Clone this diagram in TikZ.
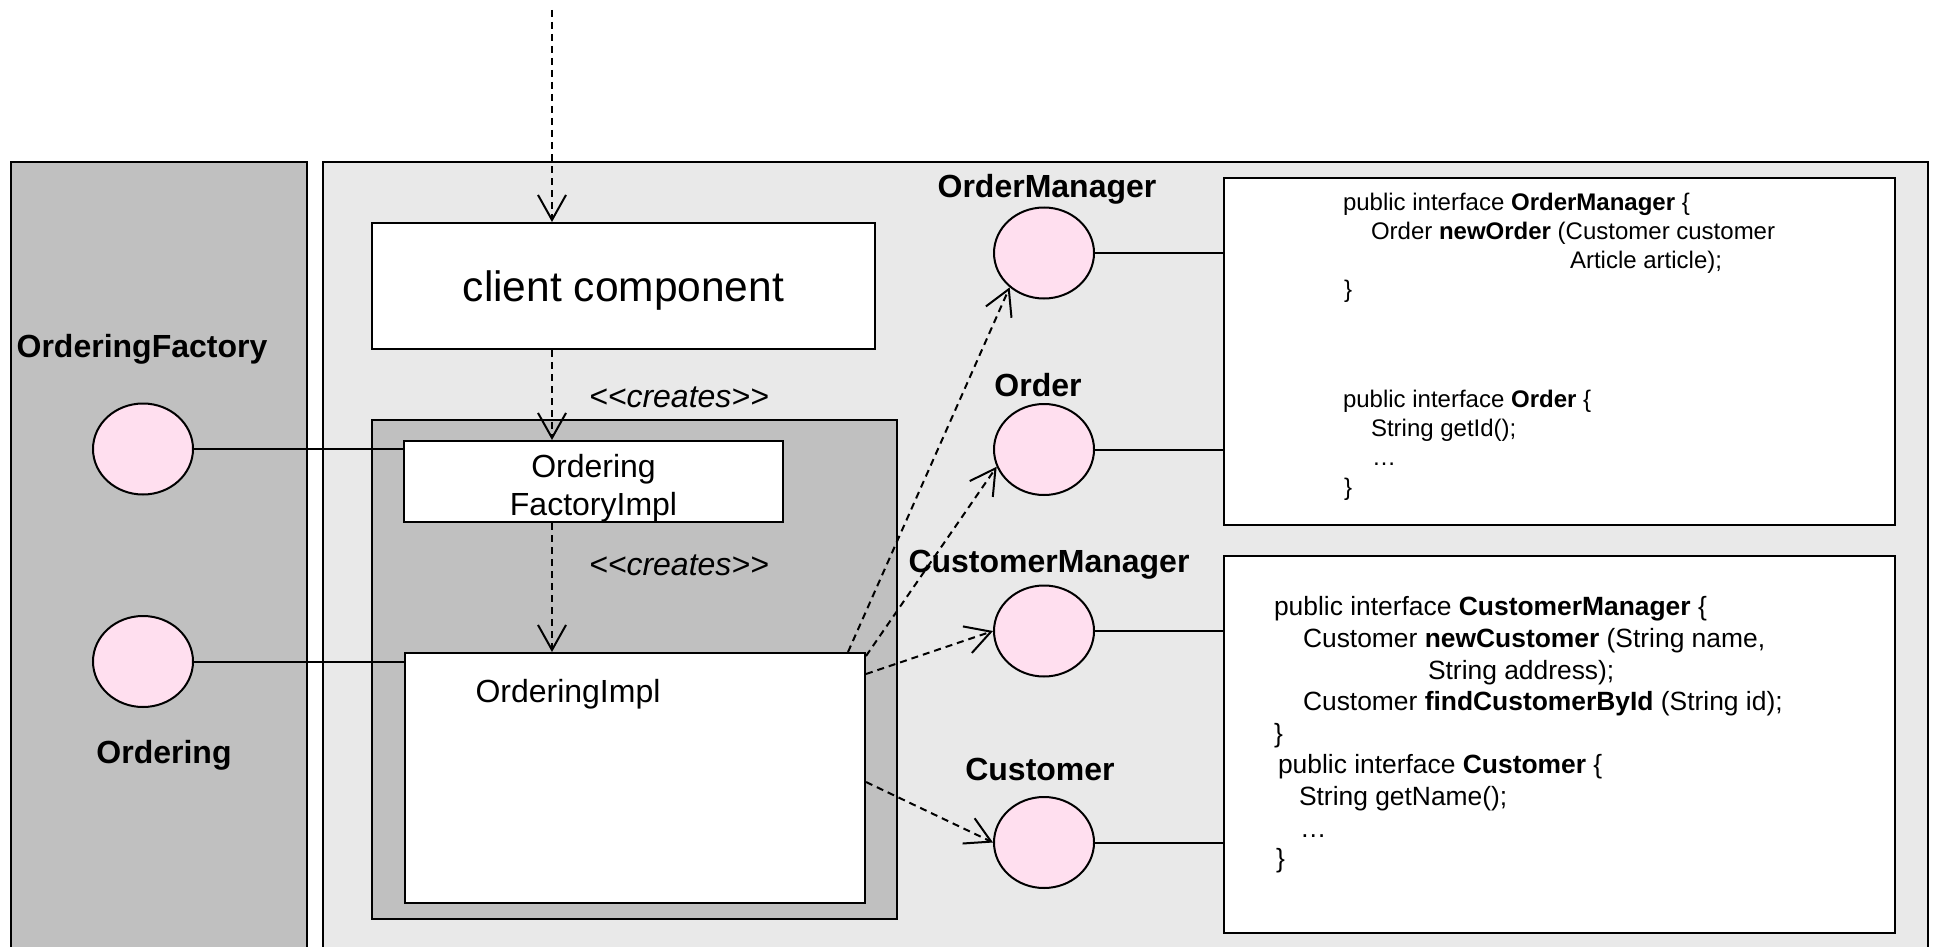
\documentclass[tikz,border=0pt]{standalone}
\usepackage{fontspec}
\setmainfont{Liberation Sans}
\usetikzlibrary{arrows.meta, shapes.geometric}
\definecolor{cpanel}{HTML}{C0C0C0}
\definecolor{clight}{HTML}{E9E9E9}
\definecolor{cpink}{HTML}{FFDFEF}
\tikzset{
  every picture/.style={line width=2pt},
  comp/.style={draw, fill=white, inner sep=0pt},
  pkg/.style={draw, fill=cpanel},
  iface/.style={ellipse, draw, fill=cpink, minimum width=100pt, minimum height=91pt, inner sep=0pt},
  iname/.style={font=\fontsize{32}{38}\selectfont\bfseries, anchor=base, inner sep=0pt},
  dep/.style={dash pattern=on 7pt off 5pt, -{Straight Barb[length=25pt, width=28pt]}},
  code/.style={anchor=base west, inner sep=0pt},
}

\begin{document}
\begin{tikzpicture}[
    x=1pt, y=-1pt,
    big/.style={font=\fontsize{32}{38}\selectfont},
    stereo/.style={font=\fontsize{32}{38}\selectfont\itshape, anchor=base, inner sep=0pt},
    codeA/.style={code, font=\fontsize{24}{29}\selectfont},
    codeB/.style={code, font=\fontsize{26.4}{31.5}\selectfont},
  ]
  \useasboundingbox (0,0) rectangle (1937,947);
  \clip (0,0) rectangle (1937,947);

  % the two panels run off the bottom edge
  \filldraw[draw=black, fill=cpanel] (11,162) rectangle (307,990);
  \filldraw[draw=black, fill=clight] (323,162) rectangle (1928,990);

  % client and the ordering component
  \node[comp, minimum width=503pt, minimum height=126pt, text depth=0pt, font=\fontsize{42.5}{51}\selectfont] (client) at (623.5,286) {client component};
  \node[pkg, minimum width=525pt, minimum height=499pt] (pkg) at (634.5,669.5) {};
  \node[comp, minimum width=379pt, minimum height=81pt] (fimpl) at (593.5,481.5) {};
  \node[big, align=center, inner sep=0pt, yshift=-6.5pt] (fimplname) at (fimpl) {Ordering\\FactoryImpl};
  \node[comp, minimum width=460pt, minimum height=250pt] (impl) at (635,778) {};
  \node[big, code] (implname) at (474.5,702) {OrderingImpl};

  % provided interfaces
  \node[iface] (ofac)   at (143,449) {};
  \node[iface] (ording) at (143,661.5) {};
  \node[iname] (ofacname)   at (142,357) {OrderingFactory};
  \node[iname] (ordingname) at (164,763) {Ordering};

  \node[iface] (om)  at (1044,253) {};
  \node[iface] (ord) at (1044,449.5) {};
  \node[iface] (cm)  at (1044,631) {};
  \node[iface] (cu)  at (1044,842.5) {};
  \node[iname] (omname)  at (1047,197) {OrderManager};
  \node[iname] (ordname) at (1038,396) {Order};
  \node[iname] (cmname)  at (1049,572) {CustomerManager};
  \node[iname] (cuname)  at (1040,780) {Customer};

  % interface listings
  \node[comp, minimum width=671pt, minimum height=347pt] (code1) at (1559.5,351.5) {};
  \node[comp, minimum width=671pt, minimum height=377pt] (code2) at (1559.5,744.5) {};

  \node[codeA] (om1) at (1342,210) {public interface \textbf{OrderManager} \{};
  \node[codeA] (om2) at (1370,239) {Order \textbf{newOrder} (Customer customer};
  \node[codeA] (om3) at (1569,268) {Article article);};
  \node[codeA] (om4) at (1343,297) {\}};
  \node[codeA] (or1) at (1342,407) {public interface \textbf{Order} \{};
  \node[codeA] (or2) at (1370,436) {String getId();};
  \node[codeA] (or3) at (1371,465) {…};
  \node[codeA] (or4) at (1343,495) {\}};

  \node[codeB] (cm1) at (1273,615) {public interface \textbf{CustomerManager} \{};
  \node[codeB] (cm2) at (1302,647) {Customer \textbf{newCustomer} (String name,};
  \node[codeB] (cm3) at (1427,679) {String address);};
  \node[codeB] (cm4) at (1302,710) {Customer \textbf{findCustomerById} (String id);};
  \node[codeB] (cm5) at (1273,742) {\}};
  \node[codeB] (cu1) at (1277,773) {public interface \textbf{Customer} \{};
  \node[codeB] (cu2) at (1298,805) {String getName();};
  \node[codeB] (cu3) at (1299,837) {…};
  \node[codeB] (cu4) at (1275,867) {\}};

  % lollipop wires
  \draw (ofac.east) -- (ofac.east -| fimpl.west);
  \draw (ording.east) -- (ording.east -| impl.west);
  \draw (om.east) -- (om.east -| code1.west);
  \draw (ord.east) -- (ord.east -| code1.west);
  \draw (cm.east) -- (cm.east -| code2.west);
  \draw (cu.east) -- (cu.east -| code2.west);

  % dependencies
  \coordinate (src) at (552,10);
  \draw[dep] (src) -- (src |- client.north);
  \draw[dep] (client.south -| src) -- (fimpl.north -| src);
  \draw[dep] (fimpl.south -| src) -- (impl.north -| src);
  \node[stereo] (cr1) at (679,407) {<\kern0pt<creates>\kern0pt>};
  \node[stereo] (cr2) at (679,575) {<\kern0pt<creates>\kern0pt>};

  \draw[dep] ([xshift=-18pt]impl.north east) -- (om.225);
  \draw[dep] ([yshift=-4pt]impl.north east) -- (ord.200);
  \draw[dep] ([yshift=-22pt]impl.north east) -- (cm.west);
  \draw[dep] ([yshift=-130pt]impl.north east) -- (cu.west);
\end{tikzpicture}
\end{document}
